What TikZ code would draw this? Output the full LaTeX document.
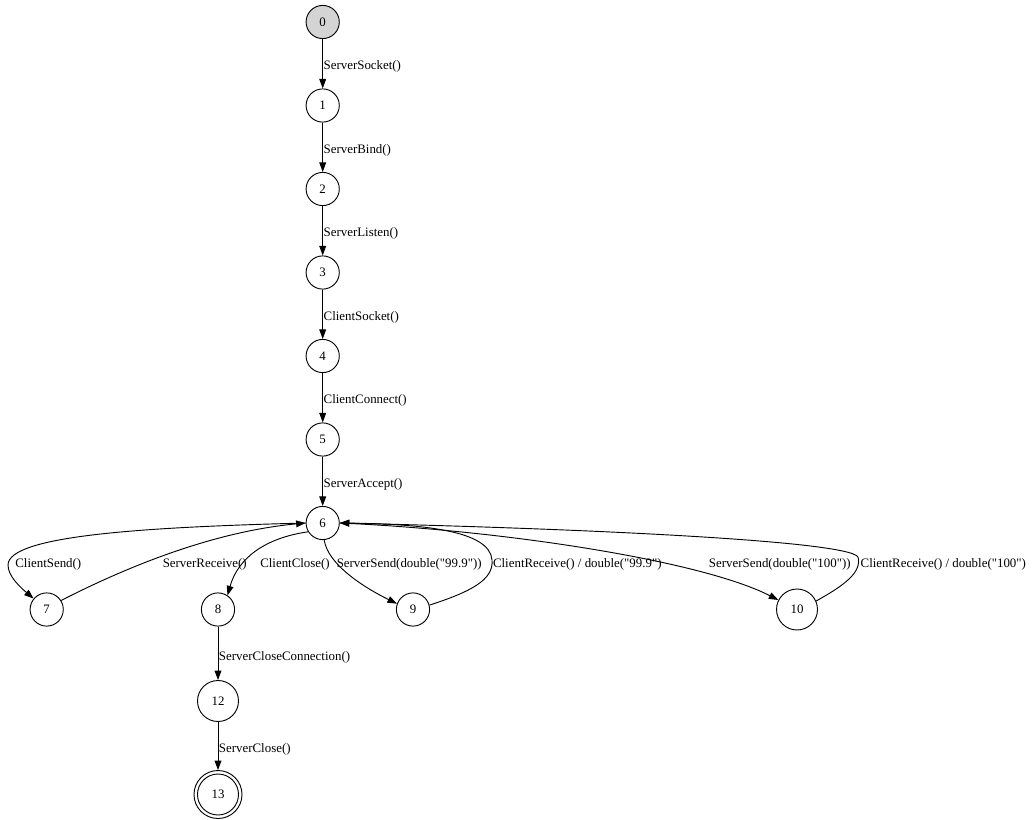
\documentclass[tikz,border=0pt]{standalone}
\usepackage{fontspec}
\setmainfont{Liberation Serif}[Ligatures=TeXOff]
\usetikzlibrary{arrows.meta}
\begin{document}
\begin{tikzpicture}[x=1pt,y=-1pt,
  txt/.style={font=\fontsize{12.9}{15}\selectfont},
  state/.style={circle, draw, line width=0.92pt, minimum size=33.2pt, inner sep=0pt, txt},
  widestate/.style={state, minimum size=41pt},
  finalstate/.style={state, minimum size=48pt,
    path picture={\draw[line width=0.92pt] (path picture bounding box.center) circle[radius=20.5pt];}},
  initial/.style={fill=black!17},
  edge/.style={line width=0.92pt, -{Triangle[length=9.5pt,width=6.8pt]}},
  lab/.style={txt, inner sep=0.5pt},
  vlab/.style={lab, anchor=west, yshift=-3pt}]
\useasboundingbox (0,0) rectangle (1035,819);

% states
\node[state, initial] (n0) at (322.7,22) {0};
\node[state] (n1) at (322.7,105.5) {1};
\node[state] (n2) at (322.7,189) {2};
\node[state] (n3) at (322.7,272.5) {3};
\node[state] (n4) at (322.7,356) {4};
\node[state] (n5) at (322.7,439.5) {5};
\node[state] (n6) at (322.7,523) {6};
\node[state] (n7) at (46.7,609.5) {7};
\node[state] (n8) at (218,609.5) {8};
\node[state] (n9) at (413,609.5) {9};
\node[widestate] (n10) at (797,609.5) {10};
\node[widestate] (n12) at (218,701) {12};
\node[finalstate] (n13) at (218,794.5) {13};

% main chain
\draw[edge] (n0) -- node[vlab] (l01) {ServerSocket()} (n1);
\draw[edge] (n1) -- node[vlab] (l12) {ServerBind()} (n2);
\draw[edge] (n2) -- node[vlab] (l23) {ServerListen()} (n3);
\draw[edge] (n3) -- node[vlab] (l34) {ClientSocket()} (n4);
\draw[edge] (n4) -- node[vlab] (l45) {ClientConnect()} (n5);
\draw[edge] (n5) -- node[vlab] (l56) {ServerAccept()} (n6);
\draw[edge] (n8) -- node[vlab, yshift=-1pt] (l812) {ServerCloseConnection()} (n12);
\draw[edge] (n12) -- node[vlab] (l1213) {ServerClose()} (n13);

% branches out of state 6
\draw[edge] (n6.west) .. controls (150,527) and (8,535) .. (8,565)
                      .. controls (8,576) and (20,587) .. (n7.140);
\draw[edge] (n7.32) .. controls (150,555) and (230,530) .. (n6.west);
\draw[edge] (n6.211) .. controls (265,538) and (238,558) .. (n8.56);
\draw[edge] (n6.275) .. controls (328,565) and (365,588) .. (n9.160);
\draw[edge] (n9.15) .. controls (470,592) and (494,580) .. (492,560)
                    .. controls (490,530) and (420,524) .. (n6.east);
\draw[edge] (n6.east) .. controls (500,530) and (700,560) .. (n10.153);
\draw[edge] (n10.24) .. controls (845,585) and (862,572) .. (858,557)
                     .. controls (848,540) and (560,528) .. (n6.east);

% branch labels
\node[lab] (l67) at (48.3,564.5) {ClientSend()};
\node[lab] (l76) at (204.7,564.5) {ServerReceive()};
\node[lab] (l68) at (295,564.5) {ClientClose()};
\node[lab] (l69) at (409.2,564.5) {ServerSend(double("99.9"))};
\node[lab] (l96) at (577.3,564.5) {ClientReceive() / double("99.9")};
\node[lab] (l610) at (779.8,564.5) {ServerSend(double("100"))};
\node[lab] (l106) at (943.3,564.5) {ClientReceive() / double("100")};
\end{tikzpicture}
\end{document}
